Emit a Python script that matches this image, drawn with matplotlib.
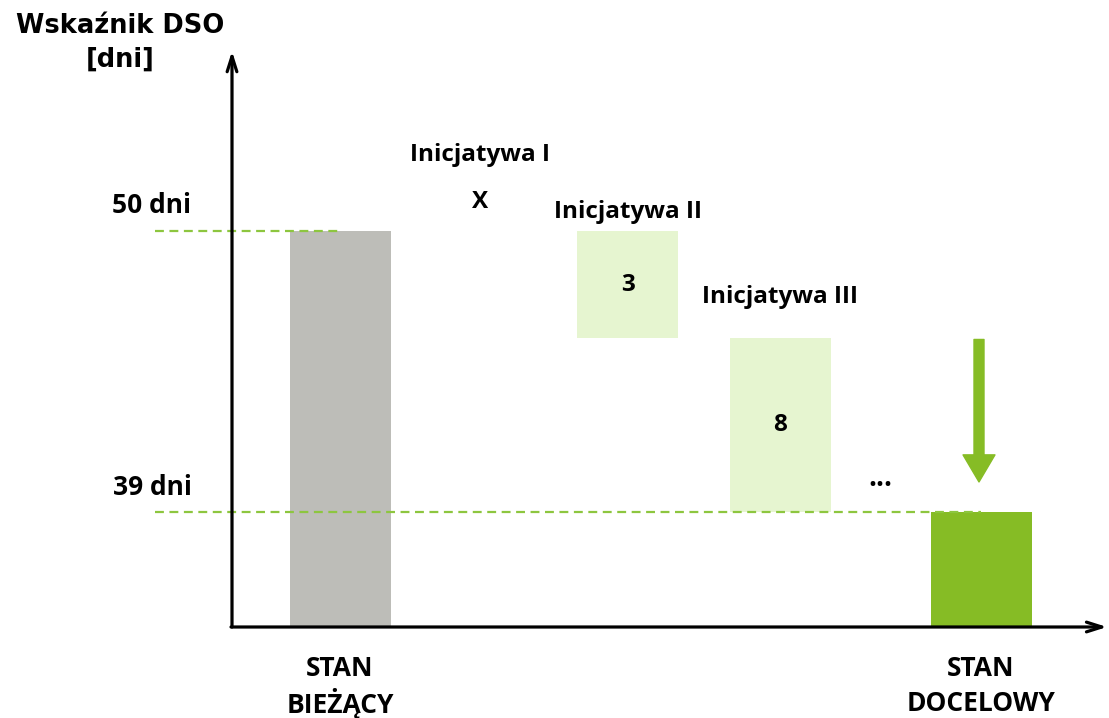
import numpy as np
import matplotlib
matplotlib.use('Agg')
import matplotlib.pyplot as plt
import matplotlib.transforms as mtrans

# values (chart is schematic, y axis not zero based)
start_val = 50
target_val = 39
start_lbl = '50 dni'
target_lbl = '39 dni'
init_names = ['Inicjatywa I', 'Inicjatywa II', 'Inicjatywa III']
init_labels = ['X', '3', '8']
init_drops = [0.0, 4.2, 6.8]        # drawn drop in chart units
cat_labels = ['STAN\nBIEŻĄCY', 'STAN\nDOCELOWY']

grey = '#BDBDB8'
light = '#E6F5D0'
green = '#86BC25'
dash_green = '#8DC63F'
font = 'Open Sans'

fig = plt.figure(figsize=(11.09, 7.18), dpi=100)
ax = fig.add_axes([232/1109, 91/718, 873/1109, 572/718])
ax.set_xlim(0, 8.73)
ax.set_ylim(34.5, 56.9)
ybase = 34.5
for s in ax.spines.values():
    s.set_visible(False)
ax.set_xticks([])
ax.set_yticks([])

# x positions of slots
xs = [1.08, 2.48, 3.955, 5.48, 6.48, 7.49]
w = 1.01

# current state
ax.bar(xs[0], start_val - ybase, bottom=ybase, width=w, color=grey, zorder=2)

# initiatives
level = start_val
tops = []
for i, d in enumerate(init_drops):
    tops.append(level)
    if d > 0:
        ax.bar(xs[i+1], d, bottom=level - d, width=w, color=light, zorder=2)
    level -= d

# target
ax.bar(xs[5], target_val - ybase, bottom=ybase, width=w, color=green, zorder=2)

# dashed reference lines
ax.plot([-0.77, xs[0]], [start_val, start_val], ls=(0, (4, 2.5)), color=dash_green,
        lw=1.6, clip_on=False, zorder=3)
ax.plot([-0.77, xs[5]], [target_val, target_val], ls=(0, (4, 2.5)), color=dash_green,
        lw=1.6, clip_on=False, zorder=3)

tk = dict(fontsize=17.5, fontweight='bold', family=font, ha='center', va='center')
ax.text(-0.8, start_val + 1.0, start_lbl, clip_on=False, **dict(tk, fontsize=19))
ax.text(-0.8, target_val + 0.98, target_lbl, clip_on=False, **dict(tk, fontsize=19))

# initiative labels
ax.text(xs[1], 52.97, init_names[0], **tk)
ax.text(xs[1], 51.13, init_labels[0], **tk)
ax.text(xs[2], 50.74, init_names[1], **tk)
ax.text(xs[2], tops[1] - init_drops[1]/2, init_labels[1], **tk)
ax.text(xs[3], 47.42, init_names[2], **tk)
ax.text(xs[3], tops[2] - init_drops[2]/2, init_labels[2], **tk)
ax.text(xs[4], 40.3, '...', **dict(tk, fontsize=20))

# green arrow
ax.annotate('', xy=(xs[5] - 0.02, 40.18), xytext=(xs[5] - 0.02, tops[2] - 0.04),
            arrowprops=dict(arrowstyle='simple,head_length=1.95,head_width=2.3,tail_width=0.72',
                            color=green, shrinkA=0, shrinkB=0, mutation_scale=10))

# axes arrows
ax.annotate('', xy=(0, 57.05), xytext=(0, ybase), xycoords='data',
            arrowprops=dict(arrowstyle='->,head_length=1.1,head_width=0.35', lw=2.3,
                            color='black', shrinkA=0, shrinkB=0), annotation_clip=False)
ax.annotate('', xy=(8.75, ybase), xytext=(-0.01, ybase),
            arrowprops=dict(arrowstyle='->,head_length=1.1,head_width=0.35', lw=2.3,
                            color='black', shrinkA=0, shrinkB=0), annotation_clip=False)

# category labels, one line at a time so both columns line up
tr = mtrans.blended_transform_factory(ax.transData, ax.transAxes)
for xc, lab in zip([xs[0], xs[5]], cat_labels):
    l1, l2 = lab.split('\n')
    ax.text(xc, -0.072, l1, transform=tr, **dict(tk, fontsize=19))
    ax.text(xc, -0.133, l2, transform=tr, **dict(tk, fontsize=19))

fig.text(120/1109, 1 - 43/718, 'Wskaźnik DSO\n[dni]', ha='center', va='center',
         fontsize=18.5, fontweight='bold', family='DejaVu Sans', linespacing=1.4)

fig.savefig('out.png', dpi=100)
